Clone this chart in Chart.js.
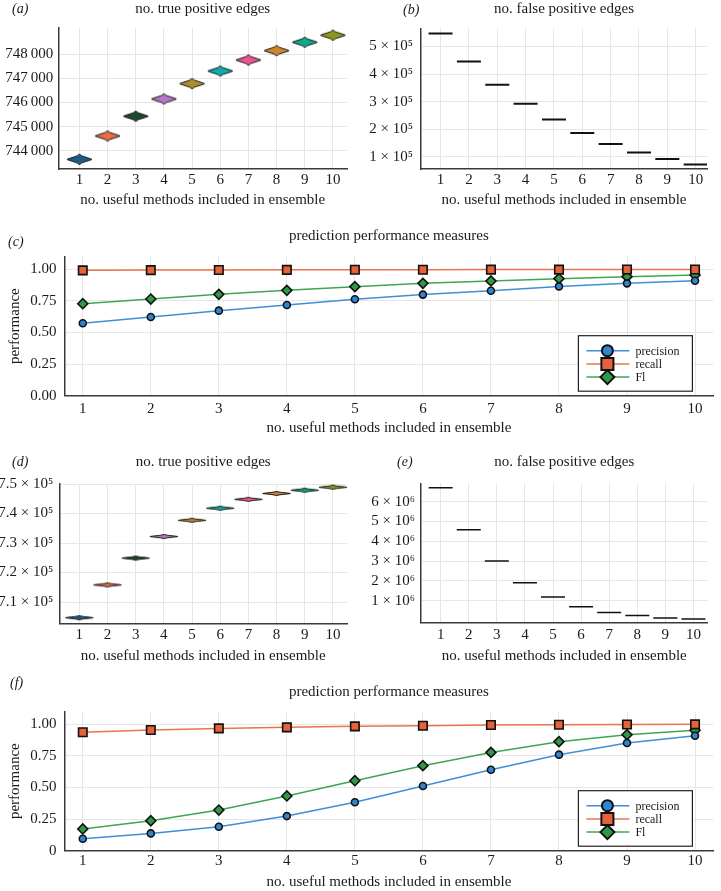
<!DOCTYPE html>
<html>
<head>
<meta charset="utf-8">
<script src="https://cdn.jsdelivr.net/npm/chart.js@4.4.1/dist/chart.umd.min.js"></script>
<style>
    body { margin: 0; background: #fff; width: 721px; height: 891px; position: relative; overflow: hidden; }
    .panel { position: absolute; }
    .tag { position: absolute; font-family: "Liberation Serif", serif; font-style: italic; font-size: 14px; line-height: 14px; color: #1a1a1a; }
</style>
</head>
<body>
<div class="panel" style="left:0;top:0"><canvas id="chartA" width="360" height="212"></canvas></div>
<div class="panel" style="left:360px;top:0"><canvas id="chartB" width="361" height="212"></canvas></div>
<div class="panel" style="left:0;top:218px"><canvas id="chartC" width="721" height="222"></canvas></div>
<div class="panel" style="left:0;top:440px"><canvas id="chartD" width="360" height="228"></canvas></div>
<div class="panel" style="left:360px;top:440px"><canvas id="chartE" width="361" height="228"></canvas></div>
<div class="panel" style="left:0;top:668px"><canvas id="chartF" width="721" height="223"></canvas></div>
<div class="tag" style="left:12px;top:2px">(a)</div>
<div class="tag" style="left:403px;top:3px">(b)</div>
<div class="tag" style="left:8px;top:235px">(c)</div>
<div class="tag" style="left:12px;top:455px">(d)</div>
<div class="tag" style="left:397px;top:455px">(e)</div>
<div class="tag" style="left:10px;top:676px">(f)</div>
<script>
// x values: number of useful methods in the ensemble
const ensembleSizes = [1, 2, 3, 4, 5, 6, 7, 8, 9, 10];

// (a) / (b): first network
const truePositivesA = [743640, 744610, 745430, 746145, 746780, 747305, 747760, 748150, 748500, 748790];
const falsePositivesB = [547000, 445000, 361000, 292000, 235000, 186000, 147000, 116000, 92000, 72000];
// (c)
const precisionC = [0.573, 0.623, 0.673, 0.718, 0.763, 0.800, 0.831, 0.865, 0.889, 0.910];
const recallC = [0.992, 0.994, 0.995, 0.996, 0.997, 0.997, 0.998, 0.998, 0.999, 0.999];
const f1C = [0.728, 0.765, 0.802, 0.834, 0.863, 0.889, 0.908, 0.926, 0.942, 0.955];

// (d) / (e): second network
const truePositivesD = [704700, 715800, 724900, 732200, 737700, 741800, 744800, 746800, 747900, 748900];
const falsePositivesE = [6710000, 4590000, 3010000, 1910000, 1190000, 700000, 400000, 250000, 130000, 80000];
// (f)
const precisionF = [0.095, 0.137, 0.190, 0.274, 0.383, 0.512, 0.641, 0.760, 0.852, 0.910];
const recallF = [0.937, 0.955, 0.968, 0.976, 0.984, 0.989, 0.995, 0.997, 0.999, 1.000];
const f1F = [0.172, 0.237, 0.322, 0.433, 0.554, 0.673, 0.778, 0.863, 0.918, 0.953];

// tick values
const yTicksA = [744000, 745000, 746000, 747000, 748000];
const yTicksB = [100000, 200000, 300000, 400000, 500000];
const yTicksPerf = [0, 0.25, 0.5, 0.75, 1];
const yTicksD = [710000, 720000, 730000, 740000, 750000];
const yTicksE = [1000000, 2000000, 3000000, 4000000, 5000000, 6000000];

const seriesNames = ['precision', 'recall', 'Fl'];
const xAxisTitle = 'no. useful methods included in ensemble';

const violinColours = ['#1d5b88', '#e36f47', '#1e4a2c', '#b777c9', '#ad8e2f', '#10a9ad', '#e8578f', '#cf852e', '#0fa88c', '#8e971d'];
const lineColours = ['#3f8fd7', '#ea744c', '#3fa650'];
const markerFills = ['#2f86d2', '#e5623b', '#2f9a46'];
const markerStyles = ['circle', 'rect', 'rectRot'];
const markerSizes = [3.5, 6, 5];

Chart.defaults.font.family = '"Liberation Serif", "DejaVu Serif", serif';
Chart.defaults.color = '#1a1a1a';
Chart.defaults.animation = false;

const gridColour = '#e6e6e6';
const axisColour = '#3a3a3a';

function toPoints(values) {
    return ensembleSizes.map((x, i) => ({ x: x, y: values[i] }));
}

function superscript(n) {
    const map = { '5': '\u2075', '6': '\u2076' };
    return map[String(n)];
}

function groupThousands(v) {
    return String(v).replace(/\B(?=(\d{3})+(?!\d))/g, '\u2009');
}

// small violin-like lens used as point style
function makeViolin(colour, halfW, halfH) {
    const c = document.createElement('canvas');
    c.width = Math.ceil(halfW * 2 + 4);
    c.height = Math.ceil(halfH * 2 + 4);
    const g = c.getContext('2d');
    const cx = c.width / 2, cy = c.height / 2;
    g.beginPath();
    g.moveTo(cx - halfW, cy);
    g.bezierCurveTo(cx - halfW * 0.55, cy - halfH * 0.45, cx - halfW * 0.12, cy - halfH * 0.5, cx, cy - halfH);
    g.bezierCurveTo(cx + halfW * 0.12, cy - halfH * 0.5, cx + halfW * 0.55, cy - halfH * 0.45, cx + halfW, cy);
    g.bezierCurveTo(cx + halfW * 0.55, cy + halfH * 0.45, cx + halfW * 0.12, cy + halfH * 0.5, cx, cy + halfH);
    g.bezierCurveTo(cx - halfW * 0.12, cy + halfH * 0.5, cx - halfW * 0.55, cy + halfH * 0.45, cx - halfW, cy);
    g.closePath();
    g.fillStyle = colour;
    g.fill();
    g.lineWidth = 1;
    g.strokeStyle = '#111';
    g.stroke();
    return c;
}

// legend drawn inside the plot area (bottom right)
const insideLegend = {
    id: 'insideLegend',
    afterDatasetsDraw(chart, args, opts) {
        if (!opts.show) return;
        const ctx = chart.ctx;
        const area = chart.chartArea;
        const left = area.right - opts.right - opts.width;
        const top = area.bottom - opts.bottom - opts.height;
        ctx.save();
        ctx.fillStyle = '#fff';
        ctx.fillRect(left, top, opts.width, opts.height);
        ctx.lineWidth = 1.2;
        ctx.strokeStyle = '#222';
        ctx.strokeRect(left, top, opts.width, opts.height);
        chart.data.datasets.forEach((ds, i) => {
            const y = top + opts.firstRow + i * opts.rowGap;
            ctx.beginPath();
            ctx.moveTo(left + 8, y);
            ctx.lineTo(left + 51, y);
            ctx.lineWidth = 1.5;
            ctx.strokeStyle = ds.borderColor;
            ctx.stroke();
            ctx.fillStyle = ds.pointBackgroundColor;
            ctx.strokeStyle = '#111';
            ctx.lineWidth = 2;
            Chart.helpers.drawPoint(ctx, {
                pointStyle: ds.pointStyle,
                radius: opts.markerRadius[i],
                borderWidth: 2,
                rotation: 0
            }, left + 29, y);
            ctx.fillStyle = '#1a1a1a';
            ctx.font = '12px "Liberation Serif", serif';
            ctx.textBaseline = 'middle';
            ctx.textAlign = 'left';
            ctx.fillText(ds.label, left + 57, y + 1);
        });
        ctx.restore();
    }
};

function makeScales(o) {
    return {
        x: {
            type: 'linear',
            min: o.xMin,
            max: o.xMax,
            afterBuildTicks: s => { s.ticks = ensembleSizes.map(v => ({ value: v })); },
            afterFit: s => { s.height = o.xHeight; },
            grid: { color: gridColour, drawTicks: false },
            border: { color: axisColour, width: 1.5 },
            ticks: { padding: o.xTickPad, font: { size: 15 }, maxRotation: 0, autoSkip: false },
            title: { display: true, text: xAxisTitle, font: { size: 15 }, padding: { top: 0, bottom: o.xTitlePad } }
        },
        // panel title, centred over the plot area like the original
        top: {
            type: 'linear',
            position: 'top',
            afterFit: s => { s.height = o.titleBlock; },
            grid: { display: false, drawTicks: false },
            border: { display: false },
            ticks: { display: false },
            title: { display: true, text: o.title, font: { size: 15 }, padding: { top: o.titleTop, bottom: 0 } }
        },
        y: {
            type: 'linear',
            min: o.yMin,
            max: o.yMax,
            afterBuildTicks: s => { s.ticks = o.yTicks.map(v => ({ value: v })); },
            afterFit: s => { s.width = o.yWidth; },
            grid: { color: gridColour, drawTicks: false },
            border: { color: axisColour, width: 1.5 },
            ticks: { padding: o.yTickPad, font: { size: 15 }, callback: o.yFormat },
            title: o.yTitle
                ? { display: true, text: o.yTitle, font: { size: 15 }, padding: { top: 6, bottom: 0 } }
                : { display: false }
        }
    };
}

function violinChart(id, values, shapes, o) {
    new Chart(document.getElementById(id), {
        type: 'scatter',
        data: {
            datasets: [{
                data: toPoints(values),
                pointStyle: shapes,
                pointRadius: 12,
                borderColor: '#111',
                borderWidth: o.markWidth || 1,
                backgroundColor: '#111'
            }]
        },
        options: {
            responsive: false,
            layout: { padding: { left: 0, right: o.padRight, top: 0, bottom: 0 } },
            plugins: { legend: { display: false }, tooltip: { enabled: false } },
            scales: makeScales(o)
        }
    });
}

function performanceChart(id, precision, recall, f1, o) {
    const series = [precision, recall, f1];
    new Chart(document.getElementById(id), {
        type: 'line',
        data: {
            datasets: series.map((values, i) => ({
                label: seriesNames[i],
                data: toPoints(values),
                borderColor: lineColours[i],
                borderWidth: 1.5,
                pointStyle: markerStyles[i],
                pointRadius: markerSizes[i],
                pointBackgroundColor: markerFills[i],
                pointBorderColor: '#111',
                pointBorderWidth: 1.6,
                tension: 0
            }))
        },
        options: {
            responsive: false,
            layout: { padding: { left: 0, right: 4, top: 0, bottom: 0 } },
            plugins: {
                legend: { display: false },
                tooltip: { enabled: false },
                insideLegend: { show: true, right: 21, bottom: 4.5, width: 114, height: 55.5, firstRow: 15, rowGap: 13.2, markerRadius: [5.5, 8.5, 7] }
            },
            scales: makeScales(o)
        },
        plugins: [insideLegend]
    });
}

// (a)
violinChart('chartA', truePositivesA, violinColours.map(c => makeViolin(c, 12.5, 5.5)), {
    title: 'no. true positive edges', titleBlock: 28, titleTop: 0,
    xMin: 0.25, xMax: 10.5, yMin: 743240, yMax: 749090, yTicks: yTicksA,
    yFormat: v => groupThousands(v),
    yWidth: 58.3, yTickPad: 5, padRight: 3.3, xHeight: 43, xTickPad: 2.5, xTitlePad: 3
});

// (b)
violinChart('chartB', falsePositivesB, 'line', {
    title: 'no. false positive edges', titleBlock: 28.5, titleTop: 0.5,
    xMin: 0.31, xMax: 10.4, yMin: 56000, yMax: 565000, yTicks: yTicksB,
    yFormat: v => (v / 100000) + ' \u00d7 10' + superscript(5),
    yWidth: 61, yTickPad: 8, padRight: 7.8, xHeight: 43, xTickPad: 2.5, xTitlePad: 3,
    markWidth: 2
});

// (c)
performanceChart('chartC', precisionC, recallC, f1C, {
    title: 'prediction performance measures', titleBlock: 38.7, titleTop: 9,
    xMin: 0.73, xMax: 10.27, yMin: 0, yMax: 1.1, yTicks: yTicksPerf,
    yFormat: v => v.toFixed(2), yTitle: 'performance',
    yWidth: 64.4, yTickPad: 8, xHeight: 44.3, xTickPad: 4.5, xTitlePad: 3
});

// (d)
violinChart('chartD', truePositivesD, violinColours.map(c => makeViolin(c, 14, 2.2)), {
    title: 'no. true positive edges', titleBlock: 44, titleTop: 12.7,
    xMin: 0.29, xMax: 10.5, yMin: 702800, yMax: 750000, yTicks: yTicksD,
    yFormat: v => (v / 100000).toFixed(1) + ' \u00d7 10' + superscript(5),
    yWidth: 59.3, yTickPad: 6, padRight: 3.8, xHeight: 44.7, xTickPad: 3, xTitlePad: 3
});

// (e)
violinChart('chartE', falsePositivesE, 'line', {
    title: 'no. false positive edges', titleBlock: 43.3, titleTop: 12.7,
    xMin: 0.3, xMax: 10.5, yMin: -111000, yMax: 6930000, yTicks: yTicksE,
    yFormat: v => (v / 1000000) + ' \u00d7 10' + superscript(6),
    yWidth: 61, yTickPad: 6, padRight: 8.3, xHeight: 45.3, xTickPad: 3, xTitlePad: 3,
    markWidth: 1.5
});

// (f)
performanceChart('chartF', precisionF, recallF, f1F, {
    title: 'prediction performance measures', titleBlock: 43.7, titleTop: 14.7,
    xMin: 0.73, xMax: 10.27, yMin: 0, yMax: 1.1, yTicks: yTicksPerf,
    yFormat: v => (v === 0 ? '0' : v.toFixed(2)), yTitle: 'performance',
    yWidth: 64.4, yTickPad: 8, xHeight: 40.3, xTickPad: 1.5, xTitlePad: 0
});
</script>
</body>
</html>
